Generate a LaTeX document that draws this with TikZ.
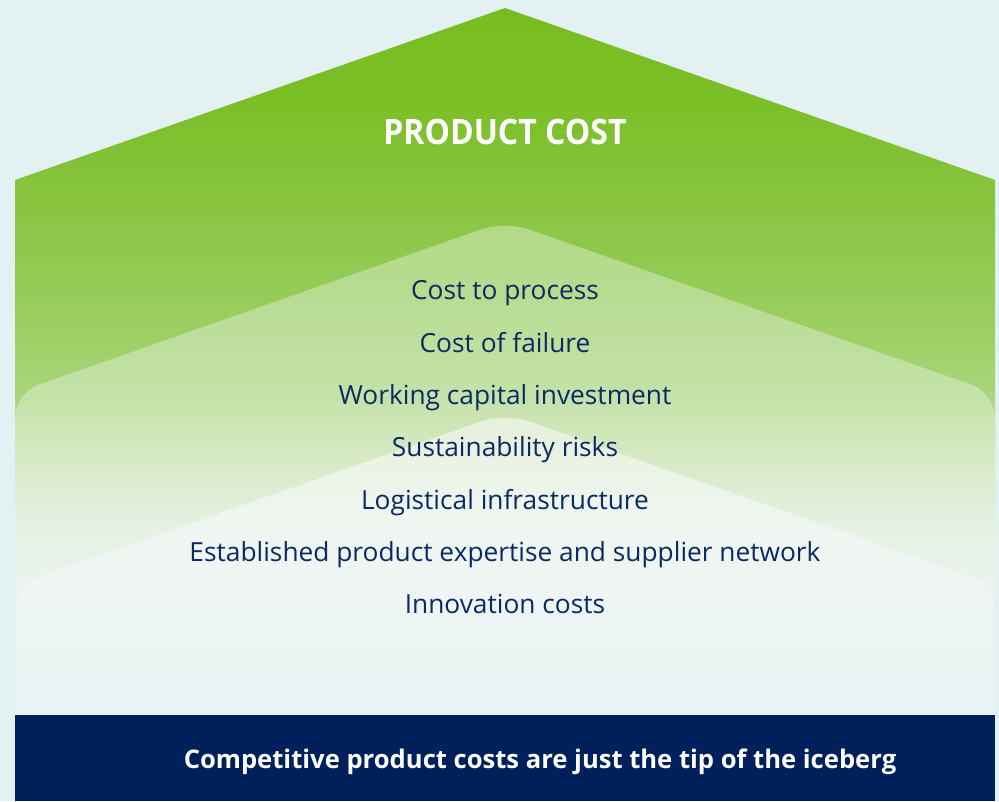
\documentclass[tikz,border=0pt]{standalone}
\usepackage{fontspec}
\setmainfont{Open Sans}
\newfontfamily\titlefont[FakeStretch=0.915]{Open Sans}
\usepackage{xcolor}
\usetikzlibrary{positioning}
\definecolor{pagebg}{HTML}{E4F1F3}
\definecolor{navyband}{HTML}{00205B}
\definecolor{navytext}{HTML}{0B2A63}

% green house, fading to white at the bottom
\pgfdeclareverticalshading{outershade}{100bp}{%
  color(0bp)=(pagebg!30!white); color(25bp)=(pagebg!30!white);
  color(34.2bp)=({rgb,255:red,228;green,241;blue,223});
  color(41.6bp)=({rgb,255:red,203;green,229;blue,180});
  color(48.3bp)=({rgb,255:red,168;green,212;blue,119});
  color(54.4bp)=({rgb,255:red,151;green,204;blue,90});
  color(62.8bp)=({rgb,255:red,133;green,195;blue,58});
  color(68.5bp)=({rgb,255:red,123;green,191;blue,39});
  color(75bp)=({rgb,255:red,120;green,189;blue,32});
  color(100bp)=({rgb,255:red,120;green,189;blue,32})}
\pgfdeclareverticalshading{innershadeA}{100bp}{%
  color(0bp)=({rgb,255:red,232;green,242;blue,242}); color(25bp)=({rgb,255:red,232;green,242;blue,242});
  color(41.4bp)=({rgb,255:red,234;green,243;blue,238});
  color(46.5bp)=({rgb,255:red,230;green,241;blue,227});
  color(52.1bp)=({rgb,255:red,217;green,235;blue,202});
  color(58.7bp)=({rgb,255:red,197;green,226;blue,169});
  color(68bp)=({rgb,255:red,183;green,220;blue,145});
  color(75bp)=({rgb,255:red,178;green,217;blue,134});
  color(100bp)=({rgb,255:red,178;green,217;blue,134})}
\pgfdeclareverticalshading{innershadeB}{100bp}{%
  color(0bp)=({rgb,255:red,232;green,243;blue,243}); color(25bp)=({rgb,255:red,232;green,243;blue,243});
  color(33.9bp)=({rgb,255:red,233;green,243;blue,243});
  color(48.4bp)=({rgb,255:red,238;green,245;blue,244});
  color(60bp)=({rgb,255:red,239;green,246;blue,240});
  color(75bp)=({rgb,255:red,230;green,240;blue,218});
  color(100bp)=({rgb,255:red,230;green,240;blue,218})}

\begin{document}
\begin{tikzpicture}[
    x=1pt, y=1pt,
    title/.style={text=white, font=\titlefont\fontsize{35}{40}\selectfont\bfseries, anchor=base},
    item/.style={text=navytext, font=\fontsize{26.3}{30}\selectfont, anchor=base},
    footer/.style={text=white, font=\fontsize{25.6}{30}\selectfont\bfseries, anchor=base}
]
    \useasboundingbox (0,0) rectangle (999,801);
    \fill[pagebg] (0,0) rectangle (999,801);

    % nested houses
    \shade[shading=outershade] (15,86) -- (15,621) -- (505,793) -- (995,621) -- (995,86) -- cycle;
    \shade[shading=innershadeA, rounded corners=25pt] (505,40) -- (15,40) -- (15,408) -- (505,580) -- (995,408) -- (995,40) -- cycle;
    \shade[shading=innershadeB, rounded corners=25pt] (505,40) -- (15,40) -- (15,216) -- (505,388) -- (995,216) -- (995,40) -- cycle;

    \node[title] (cost) at (505,656) {PRODUCT COST};

    \foreach \txt [count=\i] in {Cost to process, Cost of failure, Working capital investment,
        Sustainability risks, Logistical infrastructure,
        Established product expertise and supplier network, Innovation costs}
        \node[item] (item\i) at (505,{501-52.3*(\i-1)}) {\txt};

    % bottom band
    \node[fill=navyband, anchor=south west, inner sep=0pt, minimum width=980pt, minimum height=86pt] (band) at (15,0) {};
    \node[footer] (tip) at (540,33) {Competitive product costs are just the tip of the iceberg};
\end{tikzpicture}
\end{document}
